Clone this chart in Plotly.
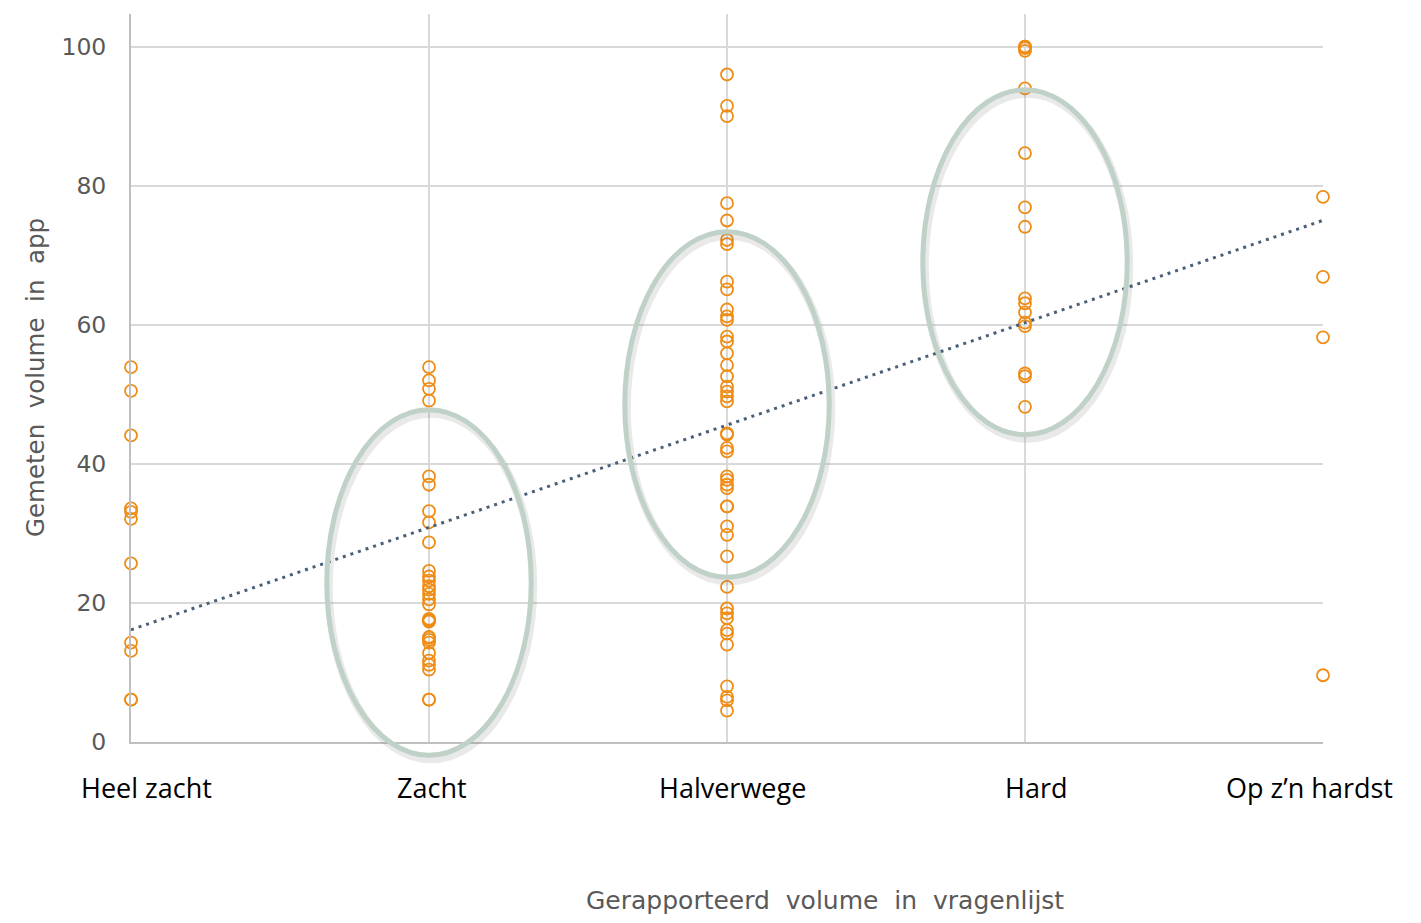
import numpy as np
import plotly.graph_objects as go

# ---- data ----
categories = ["Heel zacht", "Zacht", "Halverwege", "Hard", "Op z\u2019n hardst"]

heel_zacht = [53.9, 50.5, 44.1, 33.6, 33.1, 32.1, 25.7, 14.3, 13.1, 6.1, 6.1]
zacht = [53.9, 52.0, 50.8, 49.1, 38.2, 37.0, 33.2, 31.6, 28.7, 24.6, 23.8, 23.2,
         22.4, 21.9, 21.3, 20.5, 19.8, 17.7, 17.5, 17.5, 17.3, 15.1, 15.0, 14.7,
         14.3, 12.8, 11.7, 11.1, 10.4, 6.1, 6.1]
halverwege = [96.0, 91.5, 90.0, 77.5, 75.0, 72.2, 71.6, 66.2, 65.1, 62.2, 61.2,
              60.7, 58.3, 57.6, 55.9, 54.2, 52.6, 51.1, 50.4, 49.7, 49.0, 44.4,
              44.2, 42.3, 41.8, 38.2, 37.7, 37.0, 36.5, 33.9, 33.9, 31.0, 29.8,
              26.7, 22.3, 19.2, 18.5, 17.8, 16.1, 15.6, 14.0, 8.0, 6.5, 6.0, 4.5]
hard = [100.0, 100.0, 99.8, 99.4, 94.0, 84.7, 76.9, 74.1, 63.8, 63.1, 61.8, 60.3,
        59.8, 53.0, 52.6, 48.2]
op_zn_hardst = [78.4, 66.9, 58.2, 9.6]

series_by_category = [heel_zacht, zacht, halverwege, hard, op_zn_hardst]

y_ticks = [0, 20, 40, 60, 80, 100]

# highlighted groups (ellipses): category, y-range covered
ellipse_categories = ["Zacht", "Halverwege", "Hard"]
ellipse_y_low = [-1.9, 23.7, 44.2]
ellipse_y_high = [47.8, 73.4, 93.8]
ellipse_half_width = 0.343

# ---- build ----
xs, ys = [], []
for i, vals in enumerate(series_by_category):
    xs += [i + 1] * len(vals)
    ys += vals
xs = np.array(xs, dtype=float)
ys = np.array(ys, dtype=float)
slope, intercept = np.polyfit(xs, ys, 1)
trend_x = np.array([1.0, float(len(categories))])
trend_y = slope * trend_x + intercept

Y_MAX = 104.7
X_MIN, X_MAX = 1, len(categories)
PLOT_W, PLOT_H = 1192, 728

fig = go.Figure()
fig.add_trace(go.Scatter(
    x=xs, y=ys, mode="markers", cliponaxis=False,
    marker=dict(symbol="circle-open", size=12, color="#F08C14",
                line=dict(width=1.8, color="#F08C14")),
    showlegend=False, hoverinfo="x+y"))
fig.add_trace(go.Scatter(
    x=trend_x, y=trend_y, mode="lines", cliponaxis=False,
    line=dict(color="#4A5F78", width=3, dash="3px,5px"),
    showlegend=False, hoverinfo="skip"))

shapes = []
for cat, lo, hi in zip(ellipse_categories, ellipse_y_low, ellipse_y_high):
    cx = categories.index(cat) + 1
    px0 = (cx - ellipse_half_width - X_MIN) / (X_MAX - X_MIN)
    px1 = (cx + ellipse_half_width - X_MIN) / (X_MAX - X_MIN)
    py0 = lo / Y_MAX
    py1 = hi / Y_MAX
    dy = 4 / PLOT_H
    dx = 2 / PLOT_W
    shapes.append(dict(type="circle", xref="paper", yref="paper", layer="above",
                       x0=px0 + dx, x1=px1 + dx, y0=py0 - dy, y1=py1 - dy,
                       line=dict(color="rgba(120,120,120,0.16)", width=8)))
    shapes.append(dict(type="circle", xref="paper", yref="paper", layer="above",
                       x0=px0, x1=px1, y0=py0, y1=py1,
                       line=dict(color="#C0D2C7", width=5)))

label_font = dict(family="Open Sans, sans-serif", size=27, color="#000000")
label_shift = [15, 3, 5, 11, -14]
annotations = []
for i, (cat, sh) in enumerate(zip(categories, label_shift)):
    annotations.append(dict(x=i + 1, y=0, xref="x", yref="paper", text=cat,
                            showarrow=False, xanchor="center", yanchor="middle",
                            xshift=sh, yshift=-45, font=label_font))

annotations.append(dict(x=(825 - 131) / PLOT_W, y=0, xref="paper", yref="paper",
                        text="Gerapporteerd\u00a0 volume\u00a0 in\u00a0 vragenlijst",
                        showarrow=False, xanchor="center", yanchor="middle", yshift=-158,
                        font=dict(family="DejaVu Sans, Verdana, sans-serif", size=25,
                                  color="#595959")))
annotations.append(dict(x=(35 - 131) / PLOT_W, y=0.5, xref="paper", yref="paper",
                        text="Gemeten\u00a0 volume\u00a0 in\u00a0 app", showarrow=False,
                        textangle=-90, xanchor="center", yanchor="middle",
                        font=dict(family="DejaVu Sans, Verdana, sans-serif", size=24.5,
                                  color="#595959")))

fig.update_layout(
    width=1421, height=923,
    margin=dict(l=123, r=106, t=6, b=189),
    paper_bgcolor="white", plot_bgcolor="white",
    shapes=shapes, annotations=annotations,
    xaxis=dict(range=[X_MIN, X_MAX], tickvals=list(range(1, len(categories) + 1)),
               showticklabels=False, showgrid=True, gridcolor="#D9D9D9", gridwidth=1.5,
               showline=True, linecolor="#BFBFBF", linewidth=2, zeroline=False,
               ticks="", fixedrange=True),
    yaxis=dict(range=[0, Y_MAX], tickvals=y_ticks, showgrid=True, gridcolor="#D9D9D9",
               gridwidth=1.5, showline=True, linecolor="#BFBFBF", linewidth=2,
               zeroline=False, ticks="", ticklabelstandoff=18,
               tickfont=dict(family="DejaVu Sans, Verdana, sans-serif", size=23.5, color="#595959"),
               fixedrange=True),
)

fig.write_html("out.html")
